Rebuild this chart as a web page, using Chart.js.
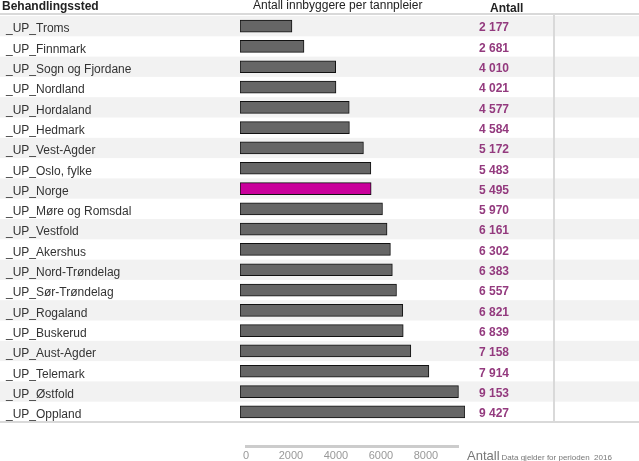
<!DOCTYPE html>
<html>
<head>
<meta charset="utf-8">
<script src="https://cdn.jsdelivr.net/npm/chart.js@4"></script>
<style>
  body { margin: 0; background: #fff; }
  #wrap { position: relative; width: 639px; height: 461px; }
  #tableChart { position: absolute; left: 0; top: 0; }
  #axisChart { position: absolute; left: 0; top: 432px; }
  #axisNote { position: absolute; left: 467px; top: 446px; font-family: "Liberation Sans", Arial, sans-serif; color: #777; white-space: nowrap; }
  #axisNote b { font-weight: normal; font-size: 13px; }
  #axisNote span { font-size: 8px; margin-left: 2px; }
</style>
</head>
<body>
<div id="wrap">
  <canvas id="tableChart" width="639" height="432"></canvas>
  <canvas id="axisChart" width="639" height="29"></canvas>
  <div id="axisNote"><b>Antall</b><span>Data gjelder for perioden&nbsp; 2016</span></div>
</div>
<script>
// Data
const places = [
    '_UP_Troms', '_UP_Finnmark', '_UP_Sogn og Fjordane', '_UP_Nordland', '_UP_Hordaland',
    '_UP_Hedmark', '_UP_Vest-Agder', '_UP_Oslo, fylke', '_UP_Norge', '_UP_Møre og Romsdal',
    '_UP_Vestfold', '_UP_Akershus', '_UP_Nord-Trøndelag', '_UP_Sør-Trøndelag', '_UP_Rogaland',
    '_UP_Buskerud', '_UP_Aust-Agder', '_UP_Telemark', '_UP_Østfold', '_UP_Oppland'
];
const antall = [2177, 2681, 4010, 4021, 4577, 4584, 5172, 5483, 5495, 5970,
                6161, 6302, 6383, 6557, 6821, 6839, 7158, 7914, 9153, 9427];
const axisTicks = [0, 2000, 4000, 6000, 8000];
const headers = ['Behandlingssted', 'Antall innbyggere per tannpleier', 'Antall'];
const highlight = '_UP_Norge';

const FONT = '"Liberation Sans", Arial, sans-serif';
Chart.defaults.font.family = FONT;
const maxVal = Math.max(...antall);

function fmt(v) {
    return String(v).replace(/\B(?=(\d{3})+(?!\d))/g, ' ');
}

// Tabell: bakgrunn, linjer og tekster
const tablePlugin = {
    id: 'tablePlugin',
    beforeDatasetsDraw(chart) {
        const ctx = chart.ctx;
        const area = chart.chartArea;
        const y = chart.scales.y;
        const step = (area.bottom - area.top) / places.length;
        ctx.save();
        places.forEach((p, i) => {
            if (i % 2 === 0) {
                const yc = y.getPixelForValue(i);
                ctx.fillStyle = '#f2f2f2';
                ctx.fillRect(0, yc - step / 2, chart.width, step);
            }
        });
        ctx.fillStyle = '#d9d9d9';
        ctx.fillRect(0, 13, chart.width, 2);
        ctx.fillRect(0, area.bottom - 1, chart.width, 2);
        ctx.fillRect(553, 15, 2, area.bottom - 16);
        ctx.restore();
    },
    afterDatasetsDraw(chart) {
        const ctx = chart.ctx;
        const y = chart.scales.y;
        ctx.save();
        ctx.textBaseline = 'alphabetic';
        ctx.fillStyle = '#222';
        ctx.font = 'bold 12px ' + FONT;
        ctx.fillText(headers[0], 2, 10);
        ctx.font = '12px ' + FONT;
        ctx.fillText(headers[1], 253, 9);
        ctx.font = 'bold 12px ' + FONT;
        ctx.fillText(headers[2], 490, 12);
        ctx.textBaseline = 'middle';
        places.forEach((p, i) => {
            const yc = y.getPixelForValue(i);
            ctx.font = '12px ' + FONT;
            ctx.fillStyle = '#333';
            ctx.fillText(p, 6, yc + 3);
            ctx.font = 'bold 12px ' + FONT;
            ctx.fillStyle = '#933a7e';
            ctx.fillText(fmt(antall[i]), 479, yc + 2);
        });
        ctx.restore();
    }
};

new Chart(document.getElementById('tableChart'), {
    type: 'bar',
    data: {
        labels: places,
        datasets: [{
            data: antall,
            backgroundColor: places.map(p => p === highlight ? '#c9009b' : '#666666'),
            borderColor: '#111',
            borderWidth: 1,
            borderSkipped: false,
            barThickness: 12
        }]
    },
    options: {
        indexAxis: 'y',
        responsive: false,
        animation: false,
        layout: { padding: { left: 240, right: 174, top: 16, bottom: 10 } },
        plugins: { legend: { display: false }, tooltip: { enabled: false } },
        scales: {
            x: { display: false, min: 0, max: maxVal },
            y: { display: false }
        }
    },
    plugins: [tablePlugin]
});

// Akse nederst
new Chart(document.getElementById('axisChart'), {
    type: 'line',
    data: { datasets: [{ data: [] }] },
    options: {
        responsive: false,
        animation: false,
        layout: { padding: { left: 246, right: 181, top: 0, bottom: 0 } },
        plugins: { legend: { display: false }, tooltip: { enabled: false } },
        scales: {
            x: {
                type: 'linear',
                offset: false,
                min: 0,
                max: maxVal,
                afterBuildTicks: axis => { axis.ticks = axisTicks.map(v => ({ value: v })); },
                grid: { display: false, drawTicks: false },
                border: { display: true, color: '#cccccc', width: 3 },
                ticks: { color: '#999', font: { size: 11 }, padding: 3, maxRotation: 0,
                         callback: v => String(v) }
            },
            y: { display: false }
        }
    }
});
</script>
</body>
</html>
